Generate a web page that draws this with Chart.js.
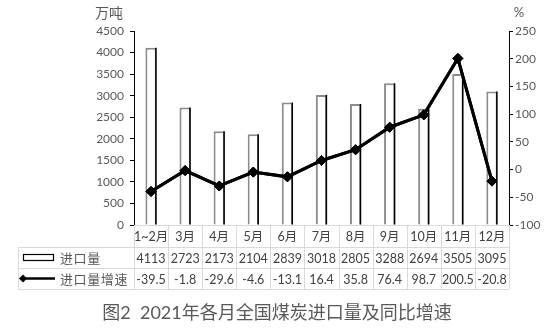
<!DOCTYPE html>
<html>
<head>
<meta charset="utf-8">
<script src="https://cdn.jsdelivr.net/npm/chart.js@4/dist/chart.umd.min.js"></script>
<style>
  html, body { margin: 0; padding: 0; background: #fff; }
  #wrap { width: 559px; height: 331px; position: relative; }
</style>
</head>
<body>
<div id="wrap"><canvas id="c" width="559" height="331"></canvas></div>
<script>
const months = ['1~2月', '3月', '4月', '5月', '6月', '7月', '8月', '9月', '10月', '11月', '12月'];
const importVol = [4113, 2723, 2173, 2104, 2839, 3018, 2805, 3288, 2694, 3505, 3095];
const importGrowth = [-39.5, -1.8, -29.6, -4.6, -13.1, 16.4, 35.8, 76.4, 98.7, 200.5, -20.8];
const volLabel = '进口量';
const growthLabel = '进口量增速';
const leftUnit = '万吨';
const rightUnit = '%';
const titleText = '图2  2021年各月全国煤炭进口量及同比增速';

const FONT = "Lato, 'Noto Sans CJK SC', sans-serif";
const GRID = '#d9d9d9';
const TXT = '#404040';

// right edge of each bar is darker in the original
const barEdge = {
  id: 'barEdge',
  afterDatasetsDraw(chart) {
    const meta = chart.getDatasetMeta(0);
    const ctx = chart.ctx;
    ctx.save();
    ctx.strokeStyle = '#000';
    ctx.lineWidth = 1.5;
    meta.data.forEach((bar) => {
      const x = bar.x + bar.width / 2 - 0.75;
      ctx.beginPath();
      ctx.moveTo(x, bar.y);
      ctx.lineTo(x, bar.base);
      ctx.stroke();
    });
    // redraw line on top of the edges
    const lm = chart.getDatasetMeta(1);
    lm.dataset.draw(ctx, chart.chartArea);
    lm.data.forEach((p) => p.draw(ctx, chart.chartArea));
    ctx.restore();
  },
};

// data table under the plot, units and caption
const dataTable = {
  id: 'dataTable',
  afterDraw(chart) {
    const ctx = chart.ctx;
    const area = chart.chartArea;
    const xs = chart.scales.x;
    const n = months.length;
    const colW = (area.right - area.left) / n;
    const r0 = area.bottom;
    const r1 = r0 + 22;
    const r2 = r1 + 21;
    const r3 = r2 + 21;
    const tLeft = 18;

    ctx.save();
    ctx.strokeStyle = GRID;
    ctx.lineWidth = 1;
    ctx.beginPath();
    ctx.moveTo(area.left, r0 + 0.5); ctx.lineTo(area.right, r0 + 0.5);
    [r1, r2, r3].forEach((y) => { ctx.moveTo(tLeft, y + 0.5); ctx.lineTo(area.right, y + 0.5); });
    ctx.moveTo(tLeft + 0.5, r1); ctx.lineTo(tLeft + 0.5, r3);
    for (let i = 0; i <= n; i++) {
      const x = Math.round(area.left + i * colW) + 0.5;
      ctx.moveTo(x, r0); ctx.lineTo(x, r3);
    }
    ctx.stroke();

    ctx.fillStyle = TXT;
    ctx.font = '12.5px ' + FONT;
    ctx.textAlign = 'center';
    ctx.textBaseline = 'middle';
    for (let i = 0; i < n; i++) {
      const cx = xs.getPixelForValue(i);
      ctx.fillText(months[i], cx, (r0 + r1) / 2 + 1);
      ctx.fillText(String(importVol[i]), cx, (r1 + r2) / 2 + 1);
      ctx.fillText(importGrowth[i].toFixed(1), cx, (r2 + r3) / 2 + 1);
    }

    // legend keys
    const y1 = (r1 + r2) / 2;
    const y2 = (r2 + r3) / 2;
    ctx.strokeStyle = '#000';
    ctx.lineWidth = 1.2;
    ctx.strokeRect(23.5, y1 - 3, 30, 6);
    ctx.lineWidth = 2.5;
    ctx.beginPath();
    ctx.moveTo(22, y2); ctx.lineTo(55, y2);
    ctx.stroke();
    ctx.fillStyle = '#000';
    ctx.beginPath();
    ctx.moveTo(23, y2 - 4); ctx.lineTo(27, y2); ctx.lineTo(23, y2 + 4); ctx.lineTo(19, y2);
    ctx.closePath();
    ctx.fill();

    ctx.fillStyle = '#595959';
    ctx.font = '13px ' + FONT;
    ctx.letterSpacing = '0.6px';
    ctx.textAlign = 'left';
    ctx.fillText(volLabel, 60, y1 + 1);
    ctx.fillText(growthLabel, 60, y2 + 1);
    ctx.letterSpacing = '0px';

    // units
    ctx.font = '14px ' + FONT;
    ctx.textAlign = 'center';
    ctx.fillText(leftUnit, 109, 13);
    ctx.font = '13px ' + FONT;
    ctx.fillText(rightUnit, 519, 13);

    // caption
    ctx.font = '18px ' + FONT;
    ctx.fillText(titleText, 277, 313);
    ctx.restore();
  },
};

Chart.defaults.font.family = FONT;

new Chart(document.getElementById('c'), {
  type: 'bar',
  data: {
    labels: months,
    datasets: [
      {
        type: 'bar',
        label: volLabel,
        data: importVol,
        yAxisID: 'y',
        backgroundColor: '#fff',
        borderColor: '#8c8c8c',
        borderWidth: 2,
        borderSkipped: 'bottom',
        barPercentage: 0.33,
        categoryPercentage: 1,
        order: 2,
      },
      {
        type: 'line',
        label: growthLabel,
        data: importGrowth,
        yAxisID: 'y1',
        borderColor: '#000',
        backgroundColor: '#000',
        borderWidth: 3,
        pointStyle: 'rectRot',
        pointRadius: 5,
        pointBorderWidth: 1,
        tension: 0,
        order: 1,
      },
    ],
  },
  options: {
    responsive: false,
    animation: false,
    layout: { padding: { top: 31, bottom: 106, left: 0, right: 0 } },
    plugins: {
      legend: { display: false },
      title: { display: false },
      tooltip: { enabled: false },
    },
    scales: {
      x: { display: false, offset: true },
      y: {
        position: 'left',
        min: 0,
        max: 4500,
        afterFit: (s) => { s.width = 134; },
        ticks: { stepSize: 500, color: '#595959', font: { size: 12 }, padding: 6, callback: (v) => String(v) },
        grid: { drawOnChartArea: false, drawTicks: true, tickLength: 4, color: '#000' },
        border: { display: true, color: '#000', width: 1 },
      },
      y1: {
        position: 'right',
        min: -100,
        max: 250,
        afterFit: (s) => { s.width = 50; },
        ticks: { stepSize: 50, color: '#595959', font: { size: 12 }, padding: 2, callback: (v) => String(v) },
        grid: { drawOnChartArea: false, drawTicks: true, tickLength: 4, color: '#000' },
        border: { display: true, color: '#000', width: 1 },
      },
    },
  },
  plugins: [barEdge, dataTable],
});
</script>
</body>
</html>
